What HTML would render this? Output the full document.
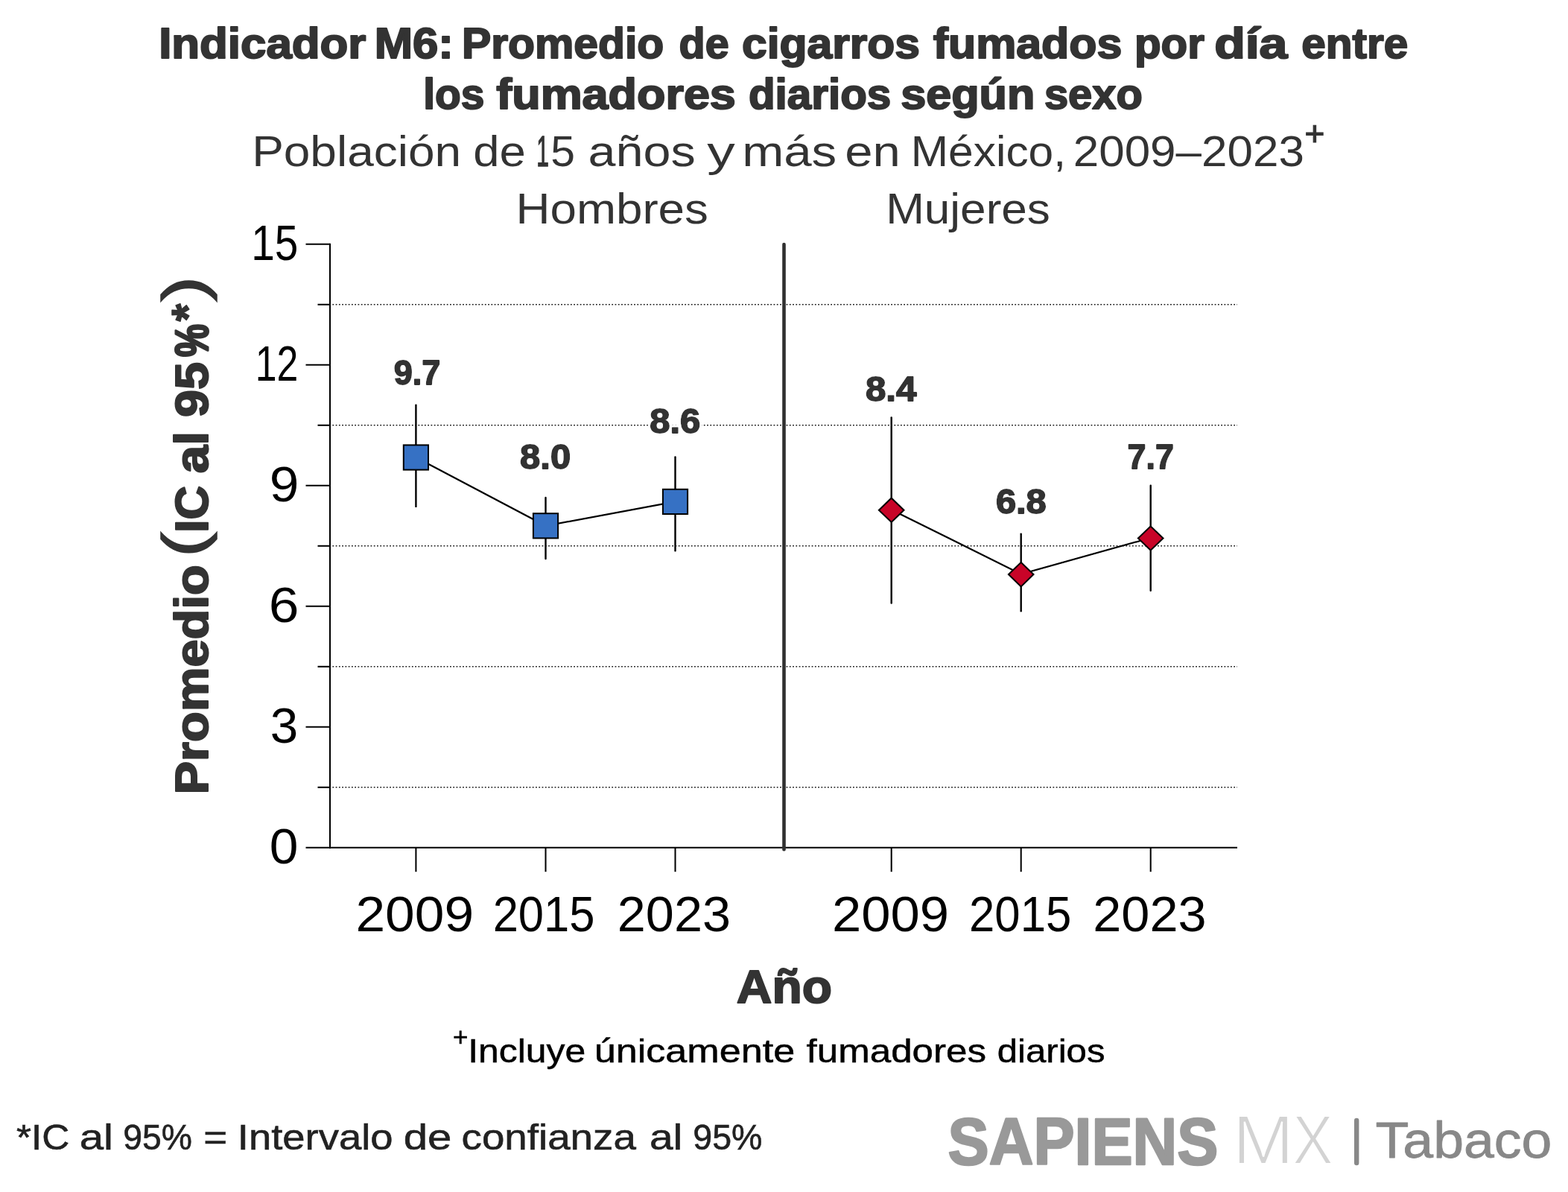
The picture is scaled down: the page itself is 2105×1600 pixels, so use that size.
<!DOCTYPE html>
<html lang="es">
<head>
<meta charset="utf-8">
<title>Indicador M6</title>
<style>
html,body{margin:0;padding:0;background:#fff;}
body{width:2105px;height:1600px;overflow:hidden;}
svg{display:block;font-family:"Liberation Sans", sans-serif;}
text{white-space:pre;}
</style>
</head>
<body>
<svg width="2105" height="1600" viewBox="0 0 2105 1600">
<rect width="2105" height="1600" fill="#fff"/>
<g id="titles">
<text y="78.4" font-size="57" font-weight="700" fill="#333" stroke="#333" stroke-width="2" stroke-linejoin="round"><tspan x="213.15" textLength="278.30" lengthAdjust="spacingAndGlyphs">Indicador</tspan> <tspan x="502.75" textLength="106.10" lengthAdjust="spacingAndGlyphs">M6:</tspan> <tspan x="619.95" textLength="271.30" lengthAdjust="spacingAndGlyphs">Promedio</tspan> <tspan x="911.55" textLength="67.10" lengthAdjust="spacingAndGlyphs">de</tspan> <tspan x="995.95" textLength="239.10" lengthAdjust="spacingAndGlyphs">cigarros</tspan> <tspan x="1252.75" textLength="253.50" lengthAdjust="spacingAndGlyphs">fumados</tspan> <tspan x="1522.95" textLength="93.90" lengthAdjust="spacingAndGlyphs">por</tspan> <tspan x="1630.15" textLength="98.30" lengthAdjust="spacingAndGlyphs">día</tspan> <tspan x="1747.15" textLength="143.10" lengthAdjust="spacingAndGlyphs">entre</tspan></text>
<text y="146" font-size="57" font-weight="700" fill="#333" stroke="#333" stroke-width="2" stroke-linejoin="round"><tspan x="568.15" textLength="82.10" lengthAdjust="spacingAndGlyphs">los</tspan> <tspan x="666.35" textLength="321.50" lengthAdjust="spacingAndGlyphs">fumadores</tspan> <tspan x="1004.95" textLength="191.30" lengthAdjust="spacingAndGlyphs">diarios</tspan> <tspan x="1209.15" textLength="180.10" lengthAdjust="spacingAndGlyphs">según</tspan> <tspan x="1401.95" textLength="131.90" lengthAdjust="spacingAndGlyphs">sexo</tspan></text>
<text y="223.2" font-size="57" font-weight="400" fill="#333"><tspan x="338.15" textLength="280.90" lengthAdjust="spacingAndGlyphs">Población</tspan> <tspan x="635.15" textLength="70.50" lengthAdjust="spacingAndGlyphs">de</tspan> <tspan x="720.15" textLength="16.70" lengthAdjust="spacingAndGlyphs" stroke="#333" stroke-width="1.3">1</tspan><tspan x="739.15" textLength="32.70" lengthAdjust="spacingAndGlyphs">5</tspan> <tspan x="789.55" textLength="144.10" lengthAdjust="spacingAndGlyphs">años</tspan> <tspan x="949.35" textLength="37.50" lengthAdjust="spacingAndGlyphs">y</tspan> <tspan x="996.15" textLength="127.10" lengthAdjust="spacingAndGlyphs">más</tspan> <tspan x="1134.15" textLength="74.50" lengthAdjust="spacingAndGlyphs">en</tspan> <tspan x="1222.75" textLength="208.30" lengthAdjust="spacingAndGlyphs">México,</tspan> <tspan x="1440.75" textLength="310.10" lengthAdjust="spacingAndGlyphs">2009–2023</tspan></text>
<text x="1751.5" y="195" font-size="46" font-weight="400" fill="#333" text-anchor="start" stroke="#333" stroke-width="1.2">+</text>
<text y="299.8" font-size="57" font-weight="400" fill="#333"><tspan x="692.55" textLength="258.30" lengthAdjust="spacingAndGlyphs">Hombres</tspan></text>
<text y="299.8" font-size="57" font-weight="400" fill="#333"><tspan x="1189.15" textLength="220.70" lengthAdjust="spacingAndGlyphs">Mujeres</tspan></text>
</g>
<g id="grid" stroke="#1a1a1a" stroke-width="1.6" stroke-dasharray="1.8 2.46" fill="none">
<line x1="446.4" x2="1661" y1="1056.8" y2="1056.8"/>
<line x1="446.4" x2="1661" y1="894.8" y2="894.8"/>
<line x1="446.4" x2="1661" y1="732.8" y2="732.8"/>
<line x1="446.4" x2="1661" y1="570.8" y2="570.8"/>
<line x1="446.4" x2="1661" y1="408.8" y2="408.8"/>
</g>
<g id="axes" stroke="#000" stroke-width="2.05" fill="none">
<line x1="443.0" x2="443.0" y1="326.7" y2="1138.9"/>
<line x1="410.5" x2="1661" y1="1137.8" y2="1137.8"/>
<line x1="410.5" x2="443.0" y1="975.8" y2="975.8"/>
<line x1="410.5" x2="443.0" y1="813.8" y2="813.8"/>
<line x1="410.5" x2="443.0" y1="651.8" y2="651.8"/>
<line x1="410.5" x2="443.0" y1="489.8" y2="489.8"/>
<line x1="410.5" x2="443.0" y1="327.8" y2="327.8"/>
<line x1="426.5" x2="443.0" y1="1056.8" y2="1056.8"/>
<line x1="426.5" x2="443.0" y1="894.8" y2="894.8"/>
<line x1="426.5" x2="443.0" y1="732.8" y2="732.8"/>
<line x1="426.5" x2="443.0" y1="570.8" y2="570.8"/>
<line x1="426.5" x2="443.0" y1="408.8" y2="408.8"/>
<line x1="558.4" x2="558.4" y1="1137.8" y2="1170.2"/>
<line x1="732.5" x2="732.5" y1="1137.8" y2="1170.2"/>
<line x1="906.5" x2="906.5" y1="1137.8" y2="1170.2"/>
<line x1="1196.7" x2="1196.7" y1="1137.8" y2="1170.2"/>
<line x1="1370.7" x2="1370.7" y1="1137.8" y2="1170.2"/>
<line x1="1544.7" x2="1544.7" y1="1137.8" y2="1170.2"/>
</g>
<line x1="1052.5" x2="1052.5" y1="328.1" y2="1140.2" stroke="#303030" stroke-width="4.6" stroke-linecap="round"/>
<g id="ylabels">
<text y="1158.5" font-size="66.5" font-weight="400" fill="#000"><tspan x="361.68" textLength="38.65" lengthAdjust="spacingAndGlyphs">0</tspan></text>
<text y="996.5" font-size="66.5" font-weight="400" fill="#000"><tspan x="362.87" textLength="37.45" lengthAdjust="spacingAndGlyphs">3</tspan></text>
<text y="834.5" font-size="66.5" font-weight="400" fill="#000"><tspan x="360.68" textLength="40.65" lengthAdjust="spacingAndGlyphs">6</tspan></text>
<text y="672.5" font-size="66.5" font-weight="400" fill="#000"><tspan x="361.68" textLength="39.65" lengthAdjust="spacingAndGlyphs">9</tspan></text>
<text y="510.5" font-size="66.5" font-weight="400" fill="#000"><tspan x="342.68" textLength="57.65" lengthAdjust="spacingAndGlyphs">12</tspan></text>
<text y="348.5" font-size="66.5" font-weight="400" fill="#000"><tspan x="337.28" textLength="63.05" lengthAdjust="spacingAndGlyphs">15</tspan></text>
</g>
<g id="xlabels">
<text y="1250.2" font-size="67" font-weight="400" fill="#000"><tspan x="477.45" textLength="158.70" lengthAdjust="spacingAndGlyphs">2009</tspan></text>
<text y="1250.2" font-size="67" font-weight="400" fill="#000"><tspan x="661.65" textLength="136.90" lengthAdjust="spacingAndGlyphs">2015</tspan></text>
<text y="1250.2" font-size="67" font-weight="400" fill="#000"><tspan x="828.85" textLength="152.10" lengthAdjust="spacingAndGlyphs">2023</tspan></text>
<text y="1250.2" font-size="67" font-weight="400" fill="#000"><tspan x="1117.05" textLength="157.10" lengthAdjust="spacingAndGlyphs">2009</tspan></text>
<text y="1250.2" font-size="67" font-weight="400" fill="#000"><tspan x="1301.05" textLength="137.30" lengthAdjust="spacingAndGlyphs">2015</tspan></text>
<text y="1250.2" font-size="67" font-weight="400" fill="#000"><tspan x="1467.25" textLength="152.30" lengthAdjust="spacingAndGlyphs">2023</tspan></text>
</g>
<g id="data" stroke="#000" fill="none" stroke-linecap="round">
<line x1="558.4" x2="558.4" y1="543.8" y2="679.9" stroke-width="2.4"/>
<line x1="732.5" x2="732.5" y1="668.0" y2="750.1" stroke-width="2.4"/>
<line x1="906.5" x2="906.5" y1="613.5" y2="739.3" stroke-width="2.4"/>
<line x1="1196.7" x2="1196.7" y1="560.5" y2="809.5" stroke-width="2.4"/>
<line x1="1370.7" x2="1370.7" y1="716.6" y2="820.3" stroke-width="2.4"/>
<line x1="1544.7" x2="1544.7" y1="651.8" y2="792.7" stroke-width="2.4"/>
<polyline stroke-width="2.2" points="558.4,614.0 732.5,705.8 906.5,673.4"/>
<polyline stroke-width="2.2" points="1196.7,684.2 1370.7,770.6 1544.7,722.0"/>
<rect x="541.8" y="597.4" width="33.2" height="33.2" fill="#3671c4" stroke-width="2" stroke-linejoin="miter"/>
<rect x="715.9" y="689.2" width="33.2" height="33.2" fill="#3671c4" stroke-width="2" stroke-linejoin="miter"/>
<rect x="889.9" y="656.8" width="33.2" height="33.2" fill="#3671c4" stroke-width="2" stroke-linejoin="miter"/>
<rect transform="translate(1196.7,684.7) scale(1.037,1) rotate(45)" x="-11.45" y="-11.45" width="22.9" height="22.9" fill="#c80428" stroke-width="2" stroke-linejoin="miter"/>
<rect transform="translate(1370.7,771.1) scale(1.037,1) rotate(45)" x="-11.45" y="-11.45" width="22.9" height="22.9" fill="#c80428" stroke-width="2" stroke-linejoin="miter"/>
<rect transform="translate(1544.7,722.5) scale(1.037,1) rotate(45)" x="-11.45" y="-11.45" width="22.9" height="22.9" fill="#c80428" stroke-width="2" stroke-linejoin="miter"/>
</g>
<defs><filter id="halo" x="-20%" y="-20%" width="140%" height="140%"><feMorphology in="SourceAlpha" operator="dilate" radius="2.5" result="d"/><feFlood flood-color="#fff"/><feComposite in2="d" operator="in" result="h"/><feMerge><feMergeNode in="h"/><feMergeNode in="SourceGraphic"/></feMerge></filter></defs>
<g id="dlabels" filter="url(#halo)">
<text y="515.7" font-size="46" font-weight="700" fill="#333" stroke="#333" stroke-width="1.8" stroke-linejoin="round"><tspan x="528.70" textLength="62.60" lengthAdjust="spacingAndGlyphs">9.7</tspan></text>
<text y="628.6" font-size="46" font-weight="700" fill="#333" stroke="#333" stroke-width="1.8" stroke-linejoin="round"><tspan x="698.10" textLength="68.00" lengthAdjust="spacingAndGlyphs">8.0</tspan></text>
<text y="581.4" font-size="46" font-weight="700" fill="#333" stroke="#333" stroke-width="1.8" stroke-linejoin="round"><tspan x="872.20" textLength="68.00" lengthAdjust="spacingAndGlyphs">8.6</tspan></text>
<text y="538.4" font-size="46" font-weight="700" fill="#333" stroke="#333" stroke-width="1.8" stroke-linejoin="round"><tspan x="1161.90" textLength="68.60" lengthAdjust="spacingAndGlyphs">8.4</tspan></text>
<text y="689.4" font-size="46" font-weight="700" fill="#333" stroke="#333" stroke-width="1.8" stroke-linejoin="round"><tspan x="1336.90" textLength="67.80" lengthAdjust="spacingAndGlyphs">6.8</tspan></text>
<text y="629.1" font-size="46" font-weight="700" fill="#333" stroke="#333" stroke-width="1.8" stroke-linejoin="round"><tspan x="1513.50" textLength="62.40" lengthAdjust="spacingAndGlyphs">7.7</tspan></text>
</g>
<g id="ytitle" font-weight="700" fill="#333" stroke="#333" stroke-width="2" stroke-linejoin="round">
<text transform="translate(279,1066.6) rotate(-90)" font-size="63" textLength="308.5" lengthAdjust="spacingAndGlyphs">Promedio</text>
<text transform="translate(279,715) rotate(-90)" font-size="63" textLength="63" lengthAdjust="spacingAndGlyphs">IC</text>
<text transform="translate(279,635.5) rotate(-90)" font-size="63" textLength="56.5" lengthAdjust="spacingAndGlyphs">al</text>
<text transform="translate(279,560) rotate(-90)" font-size="63" textLength="74" lengthAdjust="spacingAndGlyphs">95</text>
<text transform="translate(279,479) rotate(-90)" font-size="63" textLength="44" lengthAdjust="spacingAndGlyphs" stroke-width="3">%</text>
<text transform="translate(272.5,431.5) rotate(-90)" font-size="61" stroke-width="1.5">*</text>
</g>
<g id="yparens" font-weight="400" fill="#333" stroke="#333" stroke-width="1.5">
<text transform="translate(279.4,748) rotate(-90)" y="-5.5" font-size="80" textLength="34" lengthAdjust="spacingAndGlyphs">(</text>
<text transform="translate(279.4,405) rotate(-90)" y="-5.5" font-size="80" textLength="34" lengthAdjust="spacingAndGlyphs">)</text>
</g>
<text y="1345.5" font-size="63" font-weight="700" fill="#333" stroke="#333" stroke-width="2" stroke-linejoin="round"><tspan x="988.85" textLength="128.10" lengthAdjust="spacingAndGlyphs">Año</tspan></text>
<text x="608" y="1404" font-size="35" font-weight="400" fill="#000" text-anchor="start" stroke="#000" stroke-width="0.5">+</text>
<text y="1426.2" font-size="45" font-weight="400" fill="#000" stroke="#000" stroke-width="0.5"><tspan x="628.15" textLength="158.10" lengthAdjust="spacingAndGlyphs">Incluye</tspan> <tspan x="797.75" textLength="269.50" lengthAdjust="spacingAndGlyphs">únicamente</tspan> <tspan x="1082.55" textLength="241.50" lengthAdjust="spacingAndGlyphs">fumadores</tspan> <tspan x="1338.75" textLength="144.70" lengthAdjust="spacingAndGlyphs">diarios</tspan></text>
<text y="1543" font-size="49" font-weight="400" fill="#222" stroke="#222" stroke-width="0.6"><tspan x="21.95" textLength="71.30" lengthAdjust="spacingAndGlyphs">*IC</tspan> <tspan x="106.75" textLength="45.30" lengthAdjust="spacingAndGlyphs">al</tspan> <tspan x="165.15" textLength="92.70" lengthAdjust="spacingAndGlyphs">95%</tspan> <tspan x="273.35" textLength="31.90" lengthAdjust="spacingAndGlyphs">=</tspan> <tspan x="318.75" textLength="208.90" lengthAdjust="spacingAndGlyphs">Intervalo</tspan> <tspan x="541.75" textLength="64.70" lengthAdjust="spacingAndGlyphs">de</tspan> <tspan x="619.55" textLength="234.30" lengthAdjust="spacingAndGlyphs">confianza</tspan> <tspan x="871.95" textLength="44.30" lengthAdjust="spacingAndGlyphs">al</tspan> <tspan x="930.35" textLength="93.10" lengthAdjust="spacingAndGlyphs">95%</tspan></text>
<g id="logo">
<text y="1562.5" font-size="88.5" font-weight="700" fill="#999" stroke="#999" stroke-width="2.5" stroke-linejoin="round"><tspan x="1272.58" textLength="362.85" lengthAdjust="spacingAndGlyphs">SAPIENS</tspan></text>
<text y="1562" font-size="93" font-weight="400" fill="#d3d3d3" stroke="#fff" stroke-width="2" paint-order="fill stroke"><tspan x="1654.75" textLength="82.30" lengthAdjust="spacingAndGlyphs">M</tspan><tspan x="1735.35" textLength="54.50" lengthAdjust="spacingAndGlyphs">X</tspan></text>
<line x1="1821.2" x2="1821.2" y1="1504" y2="1561" stroke="#888" stroke-width="6.4" stroke-linecap="round"/>
<text y="1553.5" font-size="68" font-weight="400" fill="#888" stroke="#888" stroke-width="0.8" stroke-linejoin="round"><tspan x="1846.60" textLength="236.80" lengthAdjust="spacingAndGlyphs">Tabaco</tspan></text>
</g>
</svg>
</body>
</html>
